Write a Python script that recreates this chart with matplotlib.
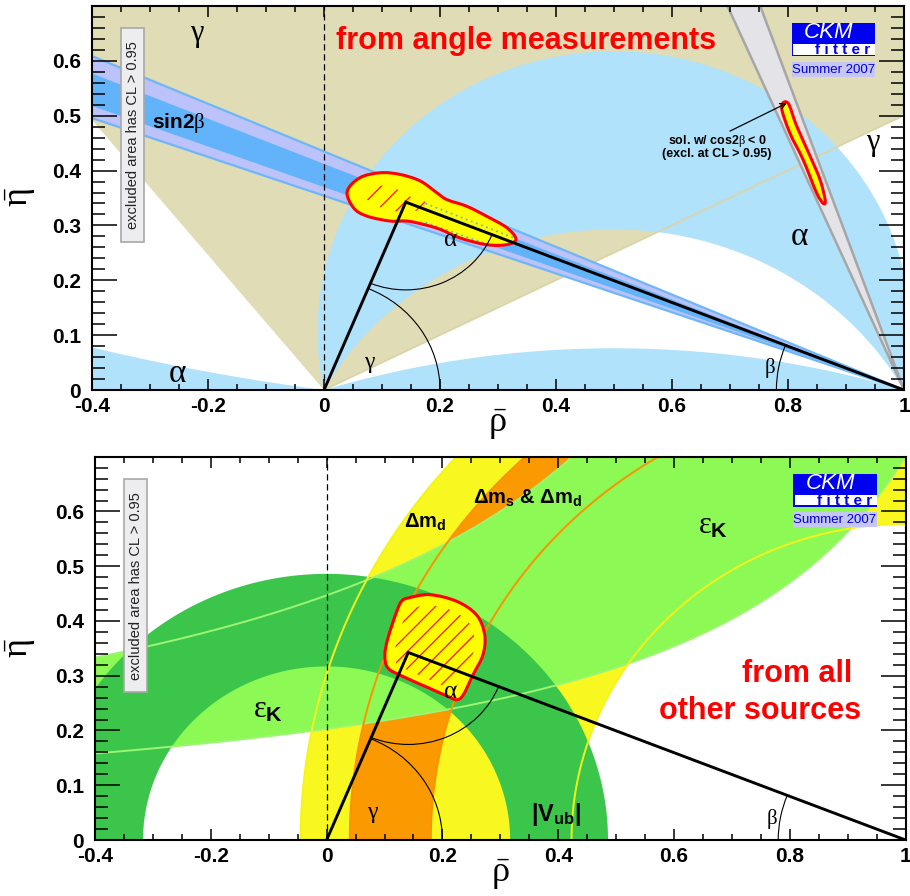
import numpy as np
import matplotlib
matplotlib.use('Agg')
import matplotlib.pyplot as plt
from matplotlib.patches import Polygon, Rectangle, PathPatch, Arc
from matplotlib.path import Path
from matplotlib.ticker import MultipleLocator

plt.rcParams['font.family'] = ['Liberation Sans', 'DejaVu Sans']
plt.rcParams['mathtext.fontset'] = 'custom'
plt.rcParams['mathtext.rm'] = 'Liberation Serif'
plt.rcParams['mathtext.it'] = 'Liberation Serif'
plt.rcParams['mathtext.bf'] = 'Liberation Sans:bold'
plt.rcParams['mathtext.sf'] = 'Liberation Sans'

# --- axes ---
xtick_vals = [-0.4, -0.2, 0.0, 0.2, 0.4, 0.6, 0.8, 1.0]
xtick_labels = ['-0.4', '-0.2', '0', '0.2', '0.4', '0.6', '0.8', '1']
ytick_vals = [0.0, 0.1, 0.2, 0.3, 0.4, 0.5, 0.6]
ytick_labels = ['0', '0.1', '0.2', '0.3', '0.4', '0.5', '0.6']

# --- unitarity triangle apex (rho, eta) ---
apex_rho, apex_eta = 0.141, 0.3425

# --- angle constraints (degrees) ---
gamma_deg = (26.6, 129.1)
alpha_band_deg = (78.0, 119.3)
alpha_low_deg = (162.7, 187.8)
beta95_deg = (19.5, 23.5)
beta68_deg = (20.3, 22.4)

# --- side constraints ---
vub_r = (0.317, 0.486)          # around (0,0)
dmd_r = (0.577, 1.045)          # around (1,0)
dms_r = (0.82, 0.96)            # around (1,0)
epsk_low = (0.2856, 1.4075)     # eta = a / (b - rho)
epsk_up = (0.5243, 1.1737)

# --- fit contours ---
top_fit_rho = [0.040, 0.062, 0.097, 0.131, 0.166, 0.194, 0.212, 0.246, 0.280, 0.315,
               0.331, 0.315, 0.280, 0.235, 0.200, 0.171, 0.143, 0.114, 0.074, 0.051]
top_fit_eta = [0.362, 0.387, 0.396, 0.393, 0.381, 0.360, 0.347, 0.335, 0.317, 0.296,
               0.275, 0.265, 0.265, 0.277, 0.293, 0.302, 0.308, 0.308, 0.317, 0.332]
top_hatch_rho = [0.072, 0.095, 0.125, 0.150, 0.176, 0.168, 0.130, 0.094]
top_hatch_eta = [0.352, 0.372, 0.366, 0.352, 0.342, 0.329, 0.325, 0.335]
mirror_fit_rho = [0.789, 0.800, 0.815, 0.838, 0.855, 0.864, 0.861, 0.849, 0.826, 0.803]
mirror_fit_eta = [0.515, 0.523, 0.481, 0.4265, 0.384, 0.347, 0.340, 0.360, 0.420, 0.469]
bot_fit_rho = [0.141, 0.178, 0.2245, 0.259, 0.273, 0.270, 0.253, 0.236, 0.2245, 0.210,
               0.178, 0.132, 0.106, 0.1007, 0.106, 0.121, 0.1295]
bot_fit_eta = [0.442, 0.448, 0.436, 0.411, 0.375, 0.338, 0.302, 0.265, 0.256, 0.262,
               0.277, 0.2986, 0.314, 0.338, 0.369, 0.417, 0.436]

TAN = '#dfdcb6'
LBLUE = '#b0e2fb'
DBLUE = '#63b3fa'
LAV = '#bcc3fb'
YEL = '#f8f820'
ORA = '#fb9a00'
LGRN = '#8df954'
DGRN = '#3bc64b'

PX_RHO, PX_ETA = 580.0, 547.0   # pixels per unit


def smooth_path(xs, ys):
    p = np.column_stack([xs, ys])
    n = len(p)
    verts, codes = [p[0]], [Path.MOVETO]
    for i in range(n):
        p0, p1, p2, p3 = p[i - 1], p[i], p[(i + 1) % n], p[(i + 2) % n]
        verts += [p1 + (p2 - p0) / 6, p2 - (p3 - p1) / 6, p2]
        codes += [Path.CURVE4] * 3
    return Path(verts, codes)


def alpha_arc(a_deg, n=300):
    # arc of constant alpha above the axis, from (1,0) to (0,0)
    a = np.radians(a_deg)
    k, r = 0.5 / np.tan(a), 0.5 / abs(np.sin(a))
    t0 = np.arctan2(-k, 0.5)
    t = np.linspace(t0, np.pi - t0, n)
    return np.column_stack([0.5 + r * np.cos(t), k + r * np.sin(t)])


def annulus(cx, r1, r2, n=300):
    t = np.linspace(0, np.pi, n)
    outer = np.column_stack([cx + r2 * np.cos(t), r2 * np.sin(t)])
    inner = np.column_stack([cx + r1 * np.cos(t[::-1]), r1 * np.sin(t[::-1])])
    return np.vstack([outer, inner])


def setup(ax):
    ax.set_xlim(-0.4, 1.0)
    ax.set_ylim(0.0, 0.7)
    ax.set_xticks(xtick_vals, labels=xtick_labels, fontsize=15, fontweight='bold')
    ax.set_yticks(ytick_vals, labels=ytick_labels, fontsize=15, fontweight='bold')
    ax.xaxis.set_minor_locator(MultipleLocator(0.05))
    ax.yaxis.set_minor_locator(MultipleLocator(0.02))
    ax.tick_params(which='both', direction='in', top=True, right=True, width=1.1)
    ax.tick_params(axis='x', which='major', length=8, pad=5)
    ax.tick_params(axis='x', which='minor', length=4.3)
    ax.tick_params(axis='y', which='major', length=18, pad=8)
    ax.tick_params(axis='y', which='minor', length=9.4)
    for s in ax.spines.values():
        s.set_linewidth(1.5)
    ax.set_axisbelow(False)
    ax.axvline(0, color='k', lw=0.9, ls=(0, (5, 3)), zorder=1.5)


def logo(ax):
    pos = ax.get_position()
    W, H = pos.width * 910, pos.height * 896
    fx = lambda dx: 1 + dx / W
    fy = lambda dy: 1 - dy / H

    def box(x0, x1, y0, y1, fc):
        ax.add_patch(Rectangle((fx(x0), fy(y1)), (x1 - x0) / W, (y1 - y0) / H,
                               transform=ax.transAxes, fc=fc, ec='none', zorder=4))
    box(-112.3, -29, 17.3, 50.0, '#0000f0')
    box(-110.7, -29, 38.3, 48.8, 'white')
    box(-112.3, -29, 55.7, 70.7, '#c6c6f2')
    ax.text(fx(-75), fy(26.8), 'CKM', transform=ax.transAxes, color='white',
            fontsize=16, style='italic', ha='center', va='center', zorder=5)
    ax.text(fx(-61.5), fy(43.8), 'f i t t e r', transform=ax.transAxes, color='#0000f0',
            fontsize=11, fontweight='bold', ha='center', va='center', zorder=5)
    ax.text(fx(-70.7), fy(63.6), 'Summer 2007', transform=ax.transAxes, color='#0000e0',
            fontsize=9.5, ha='center', va='center', zorder=5)


def excl_box(ax):
    ax.add_patch(Rectangle((0.0363, 0.3850), 0.0280, 0.5570, transform=ax.transAxes,
                           fc='#ededef', ec='#a8a8a8', lw=1.2, zorder=4))
    ax.text(0.0503, 0.6635, 'excluded area has CL > 0.95', rotation=90,
            transform=ax.transAxes, fontsize=10.5, ha='center', va='center',
            color='#222222', zorder=5)


def hatch(ax, xs, ys, start, stop, step, eta_ref):
    clip = PathPatch(smooth_path(xs, ys), fc='none', ec='none', zorder=1.6)
    ax.add_patch(clip)
    m = PX_RHO / PX_ETA
    e = np.array([eta_ref - 0.2, eta_ref + 0.2])
    for c in np.arange(start, stop, step):
        ln, = ax.plot(c + (e - eta_ref) / m, e, color='#ff1010', lw=0.9, zorder=1.65)
        ln.set_clip_path(clip)


def fit_blob(ax, xs, ys):
    path = smooth_path(xs, ys)
    fill = PathPatch(path, fc='#ffff00', ec='none', zorder=1.6)
    ax.add_patch(fill)
    ax.add_patch(PathPatch(path, fc='none', ec='#ff0000', lw=2.2, zorder=1.7))
    return fill


def triangle(ax, a_r):
    ax.plot([0, apex_rho, 1], [0, apex_eta, 0], color='k', lw=2.1,
            solid_joinstyle='miter', zorder=2.2)
    g = np.degrees(np.arctan2(apex_eta, apex_rho))
    b = np.degrees(np.arctan2(apex_eta, 1 - apex_rho))
    ax.add_patch(Arc((0, 0), 0.4, 0.4, theta1=0, theta2=g, lw=0.8, zorder=2.2))
    ax.add_patch(Arc((apex_rho, apex_eta), 2 * a_r, 2 * a_r,
                     theta1=180 + g, theta2=360 - b, lw=0.8, zorder=2.2))
    ax.add_patch(Arc((1, 0), 0.44, 0.44, theta1=180 - b, theta2=180, lw=0.8, zorder=2.2))


def greek(ax, x, y, s, size):
    ax.text(x, y, s, fontsize=size, family='Liberation Serif', ha='center',
            va='center', zorder=3)


fig = plt.figure(figsize=(9.1, 8.96), dpi=100)
ax1 = fig.add_axes([92 / 910, 1 - 390 / 896, 812 / 910, 384 / 896])
ax2 = fig.add_axes([95 / 910, 1 - 840 / 896, 810.6 / 910, 383.3 / 896])

# ================= angles =================
setup(ax1)
R = 5.0
t = np.radians(np.linspace(*gamma_deg, 100))
ax1.add_patch(Polygon(np.vstack([[0, 0], np.column_stack([R * np.cos(t), R * np.sin(t)])]),
                      fc=TAN, ec='none', zorder=1.0))

outer = alpha_arc(alpha_band_deg[0])
inner = alpha_arc(alpha_band_deg[1])[::-1]
ax1.add_patch(Polygon(np.vstack([outer, inner]), fc=LBLUE, ec='none', zorder=1.1))
ax1.add_patch(Polygon(alpha_arc(alpha_low_deg[0]), fc=LBLUE, ec='none', zorder=1.1))
# mirrored alpha solution left of the origin
a = np.radians(alpha_low_deg[1])
k, r = 0.5 / np.tan(a), 0.5 / abs(np.sin(a))
tt = np.linspace(np.pi + np.arctan2(k, 0.5), np.pi + np.arctan2(k, 0.5) - 0.3, 200)
left = np.column_stack([0.5 + r * np.cos(tt), k + r * np.sin(tt)])
ax1.add_patch(Polygon(np.vstack([left, [[left[-1, 0], 0.0]]]), fc=LBLUE, ec='none', zorder=1.1))

# lower gamma edge seen through the alpha band
g0 = np.radians(gamma_deg[0])
ax1.plot([0, 1.4], [0, 1.4 * np.tan(g0)], color='#d9d5a9', lw=1.3, zorder=1.2)


def beta_band(ax, b_deg, **kw):
    bb = np.radians(np.linspace(*b_deg, 50))
    L = 3.0
    pts = np.vstack([[1, 0], np.column_stack([1 - L * np.cos(bb), L * np.sin(bb)])])
    ax.add_patch(Polygon(pts, **kw))


beta_band(ax1, beta95_deg, fc=LAV, ec='#6fb6f8', lw=1.6, zorder=1.3)
beta_band(ax1, beta68_deg, fc=DBLUE, ec='none', zorder=1.35)
beta_band(ax1, (90 - beta95_deg[1], 90 - beta95_deg[0]), fc='#e4e4e8', ec='#a6a6a6',
          lw=1.8, zorder=1.4)

blob = fit_blob(ax1, top_fit_rho, top_fit_eta)
hatch(ax1, top_hatch_rho, top_hatch_eta, 0.0765 - 0.066, 0.25, 0.034, 0.35)
for bdeg in beta68_deg:
    rr = np.array([0.175, 0.34])
    ln, = ax1.plot(rr, (1 - rr) * np.tan(np.radians(bdeg)), color='#55b5f5', lw=1.3,
                   ls=(0, (1, 2)), zorder=1.65)
    ln.set_clip_path(blob)
fit_blob(ax1, mirror_fit_rho, mirror_fit_eta)
triangle(ax1, 0.16)

greek(ax1, -0.2195, 0.650, 'γ', 22)
greek(ax1, -0.2526, 0.030, 'α', 24)
greek(ax1, 0.947, 0.451, 'γ', 22)
greek(ax1, 0.819, 0.279, 'α', 24)
greek(ax1, 0.2186, 0.273, 'α', 18)
greek(ax1, 0.078, 0.051, 'γ', 17)
greek(ax1, 0.769, 0.040, 'β', 15)
ax1.text(-0.251, 0.4875, r'sin2$\beta$', fontsize=15, fontweight='bold',
         ha='center', va='center', zorder=3)
ax1.text(0.535, 0.887, 'from angle measurements', transform=ax1.transAxes, color='#ff0000',
         fontsize=22, fontweight='bold', ha='center', va='baseline', zorder=3)
ax1.annotate('', xy=(0.798, 0.523), xytext=(0.70, 0.472),
             arrowprops=dict(arrowstyle='->', lw=0.9, color='k', shrinkA=0, shrinkB=0),
             zorder=3)
ax1.text(0.678, 0.4540, r'sol. w/ cos2$\beta$ < 0', fontsize=9, fontweight='bold',
         ha='center', va='center', zorder=3)
ax1.text(0.678, 0.4300, '(excl. at CL > 0.95)', fontsize=9, fontweight='bold',
         ha='center', va='center', zorder=3)
excl_box(ax1)
logo(ax1)

# ================= other sources =================
setup(ax2)
ax2.add_patch(Polygon(annulus(1.0, *dmd_r), fc=YEL, ec='none', zorder=1.0))
ax2.add_patch(Polygon(annulus(1.0, *dms_r), fc=ORA, ec='none', zorder=1.1))
rl = np.linspace(-0.6, 1.12, 400)
ru = np.linspace(-0.6, 1.10, 400)
low = epsk_low[0] / (epsk_low[1] - rl)
up = epsk_up[0] / (epsk_up[1] - ru)
ax2.add_patch(Polygon(np.vstack([np.column_stack([rl, low]), np.column_stack([ru, up])[::-1]]),
                      fc=LGRN, ec='none', zorder=1.2))
ax2.add_patch(Polygon(annulus(0.0, *vub_r), fc=DGRN, ec='none', zorder=1.3))

# contour edges drawn over the filled bands
ax2.plot(rl, low, color='#9cf572', lw=1.4, zorder=1.4)
ax2.plot(ru, up, color='#9cf572', lw=1.4, zorder=1.4)
tc = np.linspace(0, np.pi, 300)
for rad in dmd_r:
    ax2.plot(1 + rad * np.cos(tc), rad * np.sin(tc), color='#f4f41c', lw=1.4, zorder=1.4)
for rad in dms_r:
    ax2.plot(1 + rad * np.cos(tc), rad * np.sin(tc), color='#fb9200', lw=1.4, zorder=1.4)

fit_blob(ax2, bot_fit_rho, bot_fit_eta)
cx, cy = np.mean(bot_fit_rho), np.mean(bot_fit_eta)
hx = cx + 0.8 * (np.array(bot_fit_rho) - cx)
hy = cy + 0.8 * (np.array(bot_fit_eta) - cy)
hatch(ax2, hx, hy, 0.0, 0.40, 0.029, 0.35)
triangle(ax2, 0.168)

ax2.text(0.170, 0.580, r'$\mathbf{\Delta m_d}$', fontsize=14.5, ha='center',
         va='center', zorder=3)
ax2.text(0.347, 0.624, r'$\mathbf{\Delta m_s}$ & $\mathbf{\Delta m_d}$', fontsize=14.5,
         fontweight='bold', ha='center', va='center', zorder=3)
ax2.text(0.668, 0.574, r'$\varepsilon_{\mathbf{K}}$', fontsize=22, ha='center',
         va='center', zorder=3)
ax2.text(-0.101, 0.239, r'$\varepsilon_{\mathbf{K}}$', fontsize=22, ha='center',
         va='center', zorder=3)
ax2.text(0.397, 0.046, r'$\mathbf{|V_{ub}|}$', fontsize=17, ha='center',
         va='center', zorder=3)
greek(ax2, 0.214, 0.271, 'α', 18)
greek(ax2, 0.079, 0.050, 'γ', 17)
greek(ax2, 0.770, 0.039, 'β', 15)
ax2.text(0.8667, 0.4114, 'from all', transform=ax2.transAxes, color='#ff0000',
         fontsize=22, fontweight='bold', ha='center', va='baseline', zorder=3)
ax2.text(0.8207, 0.3147, 'other sources', transform=ax2.transAxes, color='#ff0000',
         fontsize=22, fontweight='bold', ha='center', va='baseline', zorder=3)
excl_box(ax2)
logo(ax2)

# axis titles
for x, y, s, rot in [(20, 197, r'$\bar{\eta}$', 90), (497, 424, r'$\bar{\rho}$', 0),
                     (21, 648, r'$\bar{\eta}$', 90), (500, 874, r'$\bar{\rho}$', 0)]:
    fig.text(x / 910, 1 - y / 896, s, rotation=rot, fontsize=26, ha='center', va='center')

fig.savefig('out.png', dpi=100)
